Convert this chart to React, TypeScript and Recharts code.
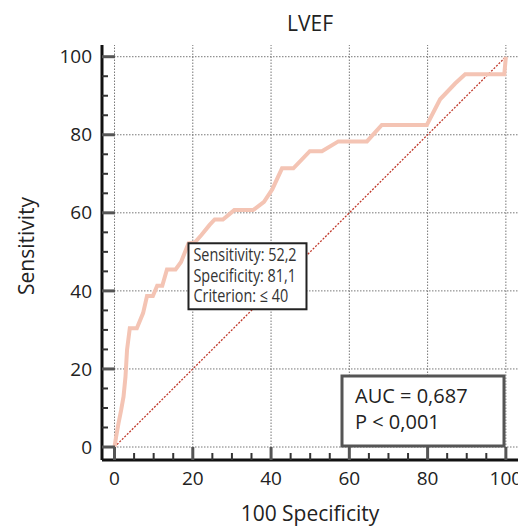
import React from "react";
import {
  ComposedChart,
  Line,
  XAxis,
  YAxis,
  ReferenceLine,
  ReferenceDot,
} from "recharts";

// ROC curve: 100 - specificity (x) against sensitivity (y)
const falsePositive = [
  0, 0.4, 1.0, 1.7, 2.3, 2.8, 3.2, 3.9, 5.7, 7.3, 8.3, 9.8, 10.9, 12.2, 13.4,
  15.6, 17.0, 18.9, 20.5, 22.2, 24.3, 25.6, 27.7, 30.6, 35.4, 38.2, 40.3, 42.8,
  45.7, 49.9, 53.0, 57.2, 64.5, 68.3, 79.8, 83.2, 87.1, 89.6, 99.6, 100,
];
const sensitivity = [
  0, 2.6, 6.0, 9.5, 12.9, 18.0, 24.9, 30.4, 30.4, 34.3, 38.7, 38.7, 41.3, 41.3,
  45.5, 45.5, 47.4, 52.2, 52.4, 54.3, 56.9, 58.3, 58.3, 60.7, 60.7, 62.8, 66.0,
  71.4, 71.4, 75.8, 75.8, 78.3, 78.3, 82.5, 82.5, 89.1, 93.2, 95.5, 95.5, 100,
];

// reference diagonal
const chanceX = [0, 100];
const chanceY = [0, 100];

const gridValues = [0, 20, 40, 60, 80, 100];
const tickValues = [
  0, 5, 10, 15, 20, 25, 30, 35, 40, 45, 50, 55, 60, 65, 70, 75, 80, 85, 90, 95,
  100,
];

const criterionPoint = { x: 18.9, y: 52.2 };
const criterionLines = ["Sensitivity: 52,2", "Specificity: 81,1", "Criterion: \u2264 40"];
const statLines = ["AUC = 0,687", "P < 0,001"];

const rocData = falsePositive.map((x, i) => ({ x, y: sensitivity[i] }));
const chanceData = chanceX.map((x, i) => ({ x, y: chanceY[i] }));

const FONT = "'Open Sans', 'Noto Sans', sans-serif";

const XTick = (props: any) => {
  const { x, y, payload } = props;
  const v = payload.value;
  const major = v % 20 === 0;
  return (
    <g>
      <line
        x1={x}
        x2={x}
        y1={y}
        y2={y - (major ? 13 : 7)}
        stroke={major ? "#555" : "#333"}
        strokeWidth={major ? 3 : 2}
      />
      {major && (
        <text x={x} y={y + 25} textAnchor="middle" fontSize={19} fill="#222" fontFamily={FONT}>
          {v}
        </text>
      )}
    </g>
  );
};

const YTick = (props: any) => {
  const { x, y, payload } = props;
  const v = payload.value;
  const major = v % 20 === 0;
  return (
    <g>
      <line
        x1={x}
        x2={x + (major ? 13 : 6)}
        y1={y}
        y2={y}
        stroke={major ? "#555" : "#333"}
        strokeWidth={major ? 3 : 2}
      />
      {major && (
        <text x={x - 10} y={y} dy="0.35em" textAnchor="end" fontSize={19} fill="#222" fontFamily={FONT}>
          {v}
        </text>
      )}
    </g>
  );
};

// box hangs from the criterion point; text squeezed to look condensed
const CriterionBox = (props: any) => {
  const { cx, cy } = props;
  return (
    <g>
      <rect x={cx} y={cy} width={118} height={66} fill="#fff" stroke="#222" strokeWidth={2} />
      <g transform={`translate(${cx + 5} ${cy}) scale(0.8 1)`}>
        {criterionLines.map((t, i) => (
          <text key={t} x={0} y={18 + i * 20.5} fontSize={18} fill="#333" fontFamily={FONT}>
            {t}
          </text>
        ))}
      </g>
    </g>
  );
};

const App = () => {
  return (
    <div style={{ position: "fixed", left: 0, top: 0, width: 518, height: 527, background: "#fff" }}>
      <ComposedChart
        width={518}
        height={527}
        margin={{ top: 45, right: 0, bottom: 27, left: 42 }}
      >
        <XAxis
          type="number"
          dataKey="x"
          domain={[-3.2, 103.1]}
          allowDataOverflow
          ticks={tickValues}
          interval={0}
          height={40}
          tickSize={0}
          tickMargin={0}
          tickLine={false}
          axisLine={{ stroke: "#111", strokeWidth: 3 }}
          tick={<XTick />}
        />
        <YAxis
          type="number"
          dataKey="y"
          domain={[-3.33, 103]}
          allowDataOverflow
          ticks={tickValues}
          interval={0}
          width={60}
          tickSize={0}
          tickMargin={0}
          tickLine={false}
          axisLine={{ stroke: "#111", strokeWidth: 3 }}
          tick={<YTick />}
        />
        {gridValues.map((v) => (
          <ReferenceLine key={`gx-${v}`} x={v} stroke="#777" strokeWidth={1} strokeDasharray="1.5 1.5" />
        ))}
        {gridValues.map((v) => (
          <ReferenceLine key={`gy-${v}`} y={v} stroke="#777" strokeWidth={1} strokeDasharray="1.5 1.5" />
        ))}
        <Line
          data={chanceData}
          dataKey="y"
          type="linear"
          stroke="#c0392b"
          strokeWidth={1.3}
          strokeDasharray="2 1.5"
          dot={false}
          isAnimationActive={false}
        />
        <Line
          data={rocData}
          dataKey="y"
          type="linear"
          stroke="#f4c4b4"
          strokeWidth={4}
          dot={false}
          isAnimationActive={false}
        />
        <ReferenceDot
          x={criterionPoint.x}
          y={criterionPoint.y}
          r={0}
          ifOverflow="visible"
          shape={<CriterionBox />}
        />
      </ComposedChart>
      <svg
        width={518}
        height={527}
        style={{ position: "absolute", left: 0, top: 0, pointerEvents: "none" }}
      >
        <text x={310} y={31} textAnchor="middle" fontSize={21} fill="#222" fontFamily={FONT}>
          LVEF
        </text>
        <text
          x={0}
          y={0}
          transform="translate(34 246) rotate(-90)"
          textAnchor="middle"
          fontSize={21}
          fill="#222"
          fontFamily={FONT}
        >
          Sensitivity
        </text>
        <text x={310} y={521} textAnchor="middle" fontSize={21} fill="#222" fontFamily={FONT}>
          100 Specificity
        </text>
        <rect x={342} y={376} width={162} height={70} fill="#fff" stroke="#555" strokeWidth={3} />
        {statLines.map((t, i) => (
          <text key={t} x={355} y={403 + i * 25.5} fontSize={20} fill="#222" fontFamily={FONT}>
            {t}
          </text>
        ))}
      </svg>
    </div>
  );
};

export default App;
